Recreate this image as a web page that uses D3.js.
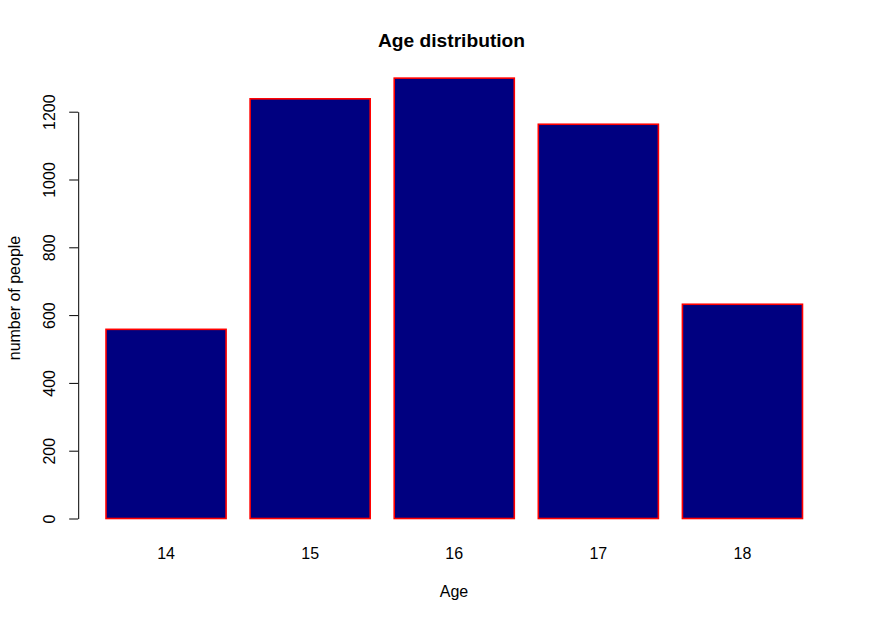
<!DOCTYPE html>
<html>
<head>
<meta charset="utf-8">
<script src="https://cdn.jsdelivr.net/npm/d3@7"></script>
<style>
  html, body { margin: 0; padding: 0; background: #ffffff; }
  svg { display: block; font-family: "Liberation Sans", Arial, sans-serif; }
</style>
</head>
<body>
<svg id="chart" width="871" height="621"></svg>
<script>
const ages = ["14", "15", "16", "17", "18"];
const counts = [558, 1238, 1299, 1163, 632];
const yTicks = [0, 200, 400, 600, 800, 1000, 1200];
const titleText = "Age distribution";
const xTitle = "Age";
const yTitle = "number of people";

const svg = d3.select("#chart");

const x = d3.scaleBand()
  .domain(ages)
  .range([94, 814.5])
  .paddingInner(1 / 6)
  .paddingOuter(1 / 12);

const y = d3.scaleLinear()
  .domain([0, 1200])
  .range([518.5, 111.7]);

// bars
svg.append("g")
  .selectAll("rect")
  .data(ages.map((a, i) => ({ age: a, value: counts[i] })))
  .join("rect")
  .attr("x", d => x(d.age))
  .attr("y", d => y(d.value))
  .attr("width", x.bandwidth())
  .attr("height", d => y(0) - y(d.value))
  .attr("fill", "#000080")
  .attr("stroke", "#ff0000")
  .attr("stroke-width", 1.6);

// y axis
const axisX = 78.2;
const yAxis = svg.append("g")
  .attr("transform", `translate(${axisX},0)`)
  .call(d3.axisLeft(y).tickValues(yTicks).tickSize(9).tickSizeOuter(0).tickFormat(d3.format("d")));
yAxis.select(".domain").attr("stroke", "#000").attr("stroke-width", 1);
yAxis.selectAll(".tick line").attr("stroke", "#000").attr("stroke-width", 1);
yAxis.selectAll(".tick text")
  .attr("x", null)
  .attr("dy", null)
  .attr("transform", `translate(${55.5 - axisX},0) rotate(-90)`)
  .attr("text-anchor", "middle")
  .attr("fill", "#000")
  .style("font-size", "16px")
  .style("font-family", "'Liberation Sans', Arial, sans-serif");

// x labels (no axis line)
svg.append("g")
  .selectAll("text")
  .data(ages)
  .join("text")
  .attr("x", d => x(d) + x.bandwidth() / 2)
  .attr("y", 559.3)
  .attr("text-anchor", "middle")
  .style("font-size", "16px")
  .attr("fill", "#000")
  .text(d => d);

// title
svg.append("text")
  .attr("x", 451.5)
  .attr("y", 47.3)
  .attr("text-anchor", "middle")
  .style("font-size", "19.2px")
  .style("font-weight", "bold")
  .attr("fill", "#000")
  .text(titleText);

// x title
svg.append("text")
  .attr("x", 454)
  .attr("y", 596.5)
  .attr("text-anchor", "middle")
  .style("font-size", "16px")
  .attr("fill", "#000")
  .text(xTitle);

// y title
svg.append("text")
  .attr("transform", "translate(19.5,298) rotate(-90)")
  .attr("text-anchor", "middle")
  .style("font-size", "16px")
  .attr("fill", "#000")
  .text(yTitle);
</script>
</body>
</html>
